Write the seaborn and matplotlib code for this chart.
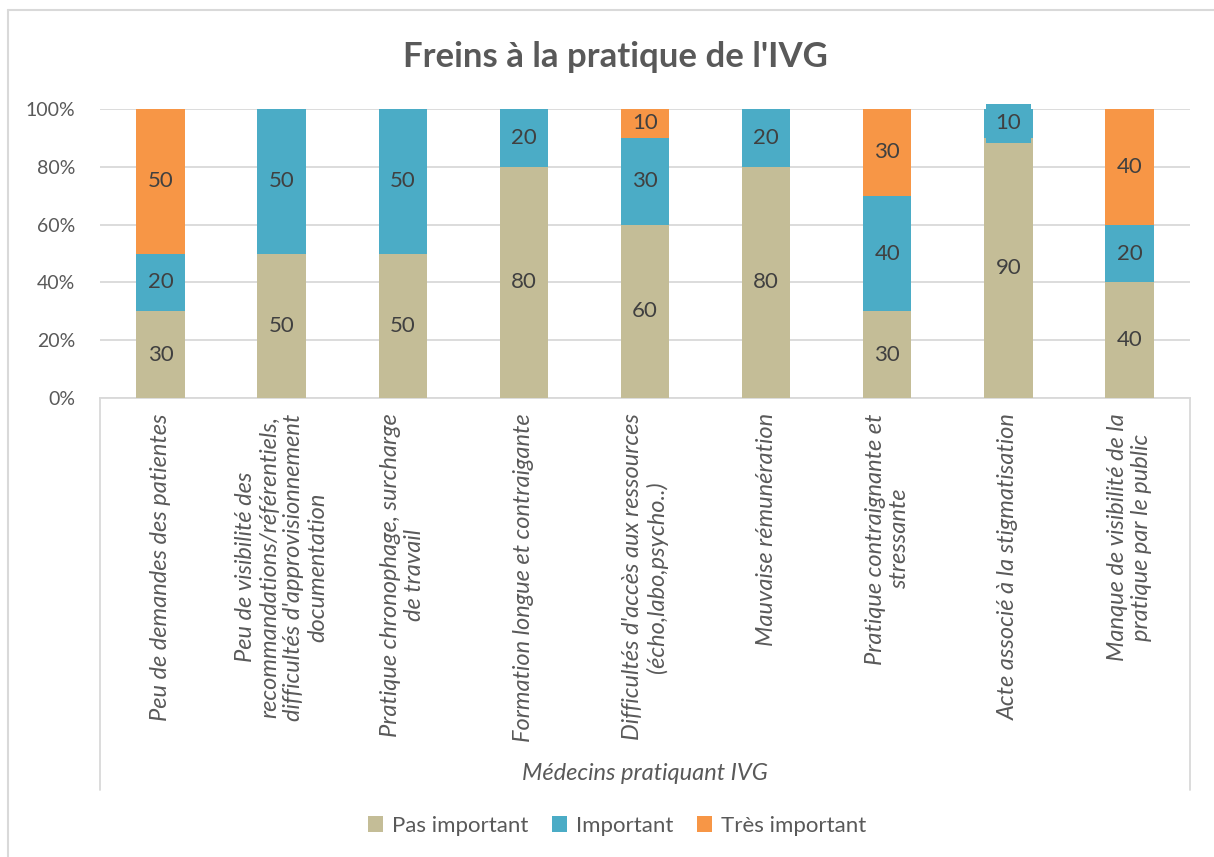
import matplotlib
matplotlib.use("Agg")
import matplotlib.pyplot as plt
import pandas as pd
import seaborn as sns
from matplotlib.lines import Line2D
from matplotlib.patches import Patch

CATEGORIES = [
    "Peu de demandes des patientes",
    "Peu de visibilité des\nrecommandations/référentiels,\ndifficultés d'approvisionnement\ndocumentation",
    "Pratique chronophage, surcharge\nde travail",
    "Formation longue et contraigante",
    "Difficultés d'accès aux ressources\n(écho,labo,psycho..)",
    "Mauvaise rémunération",
    "Pratique contraignante et\nstressante",
    "Acte associé à la stigmatisation",
    "Manque de visibilité de la\npratique par le public",
]
SERIES = ["Pas important", "Important", "Très important"]
PAS_IMPORTANT = [30, 50, 50, 80, 60, 80, 30, 90, 40]
IMPORTANT = [20, 50, 50, 20, 30, 20, 40, 10, 20]
TRES_IMPORTANT = [50, 0, 0, 0, 10, 0, 30, 0, 40]
Y_TICKS = [0, 20, 40, 60, 80, 100]

COLORS = {"Pas important": "#C4BD97", "Important": "#4BACC6", "Très important": "#F79646"}
TEXT = "#595959"


def build_frame():
    values = {"Pas important": PAS_IMPORTANT, "Important": IMPORTANT, "Très important": TRES_IMPORTANT}
    rows = []
    for serie in SERIES:
        for cat, v in zip(CATEGORIES, values[serie]):
            rows.append({"frein": cat, "serie": serie, "pct": v})
    return pd.DataFrame(rows)


def main():
    sns.set_theme(style="white")
    plt.rcParams["font.family"] = ["Lato", "DejaVu Sans"]

    df = build_frame()
    fig = plt.figure(figsize=(12.14, 8.57), dpi=100)
    ax = fig.add_axes([100 / 1214, 1 - 398 / 857, 1090 / 1214, 289 / 857])

    bottom = [0] * len(CATEGORIES)
    for serie in SERIES:
        sub = df[df["serie"] == serie]
        sns.barplot(data=sub, x="frein", y="pct", order=CATEGORIES, color=COLORS[serie],
                    saturation=1, width=0.4, bottom=bottom, ax=ax, zorder=3, linewidth=0)
        bottom = [b + v for b, v in zip(bottom, sub["pct"])]

    for i, cont in enumerate(ax.containers):
        vals = [p.get_height() for p in cont]
        labels = [f"{v:.0f}" if v > 0 else "" for v in vals]
        texts = ax.bar_label(cont, labels=labels, label_type="center", fontsize=16, color="#404040", zorder=5)
        if SERIES[i] == "Important":
            # thin top segment: Excel drew the label with a filled box
            for j, t in enumerate(texts):
                if 0 < vals[j] <= 10 and TRES_IMPORTANT[j] == 0:
                    t.set_bbox(dict(facecolor=COLORS["Important"], edgecolor="none", pad=7))

    ax.set_ylim(0, 100)
    ax.set_xlim(-0.5, len(CATEGORIES) - 0.5)
    ax.set_yticks(Y_TICKS)
    ax.set_yticklabels([f"{t}%" for t in Y_TICKS], fontsize=14, color=TEXT)
    ax.yaxis.grid(True, color="#D9D9D9", linewidth=1.3, zorder=0)
    ax.set_axisbelow(True)
    ax.tick_params(axis="y", length=0, pad=18)
    ax.tick_params(axis="x", length=0, pad=11)
    ax.set_xticks(range(len(CATEGORIES)))
    ax.set_xticklabels(CATEGORIES, rotation=90, fontsize=17, color=TEXT, style="italic",
                       ha="center", va="top", multialignment="center", linespacing=1.2)
    ax.set_xlabel("")
    ax.set_ylabel("")
    for side in ["top", "right", "left"]:
        ax.spines[side].set_visible(False)
    ax.spines["bottom"].set_color("#D9D9D9")
    ax.spines["bottom"].set_linewidth(1.3)

    # multi-level category box
    for x in [100, 1190]:
        fig.add_artist(Line2D([x / 1214, x / 1214], [1 - 398 / 857, 1 - 790 / 857],
                              color="#D9D9D9", linewidth=1.3))
    fig.text(645 / 1214, 1 - 773 / 857, "Médecins pratiquant IVG", ha="center", va="center",
             fontsize=17, style="italic", color=TEXT)

    fig.text(615 / 1214, 1 - 57 / 857, "Freins à la pratique de l'IVG", ha="center", va="center",
             fontsize=25, fontweight="bold", color=TEXT)

    # chart area border
    fig.add_artist(Line2D([8 / 1214, 8 / 1214], [0, 1 - 10 / 857], color="#D9D9D9", linewidth=1.5))
    fig.add_artist(Line2D([8 / 1214, 1], [1 - 10 / 857, 1 - 10 / 857], color="#D9D9D9", linewidth=1.5))

    handles = [Patch(facecolor=COLORS[s], edgecolor="none") for s in SERIES]
    fig.legend(handles, SERIES, loc="center", bbox_to_anchor=(617 / 1214, 1 - 826 / 857), ncol=3,
               frameon=False, fontsize=16, labelcolor=TEXT, handlelength=0.7, handleheight=0.7,
               handletextpad=0.4, columnspacing=1.05)

    fig.savefig("out.png", dpi=100)


if __name__ == "__main__":
    main()
